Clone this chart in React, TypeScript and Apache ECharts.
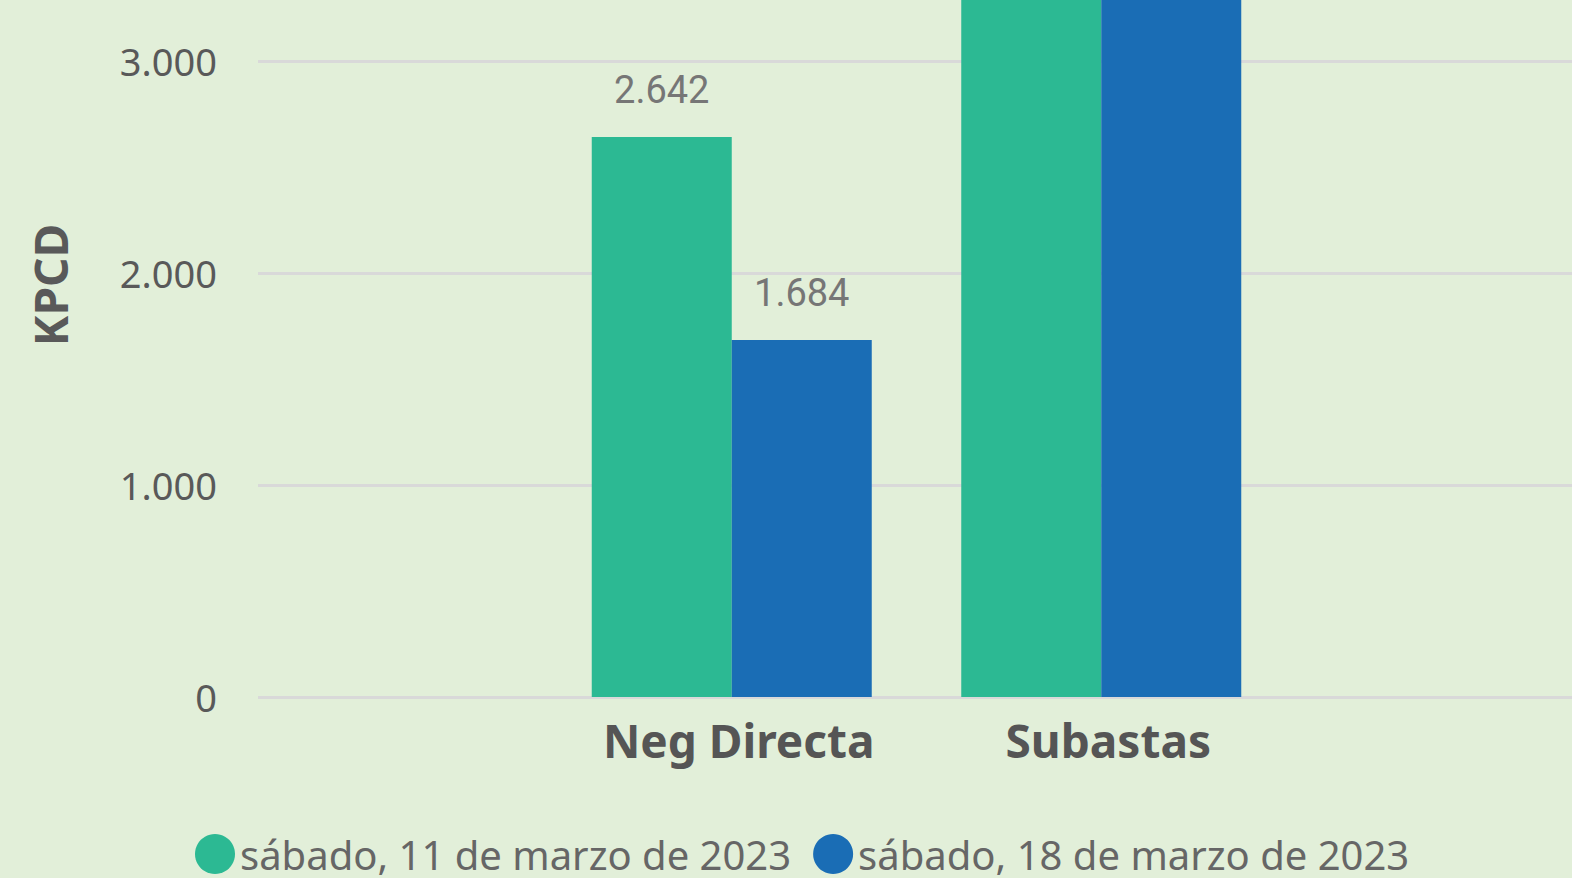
import React, { useEffect, useRef } from "react";
import * as echarts from "echarts";

const categories = ["Neg Directa", "Subastas"];
const seriesNames = ["sábado, 11 de marzo de 2023", "sábado, 18 de marzo de 2023"];
const values11 = [2642, 4081];
const values18 = [1684, 4296];
const colors = ["#2cb993", "#1a6db5"];
const yAxisTitle = "KPCD";
const yMin = 0;
const yMax = 5000;
const yInterval = 1000;

const fmt = (v: number) => String(Math.round(v)).replace(/\B(?=(\d{3})+(?!\d))/g, ".");

const OFFSET = 400;

export default function App() {
  const ref = useRef<HTMLDivElement>(null);
  useEffect(() => {
    if (!ref.current) return;
    const chart = echarts.init(ref.current, null, { renderer: "svg" });
    const gridTop = 37;
    const gridBottom = 181;
    const labelStyle = {
      show: true,
      position: "top",
      distance: 28,
      color: "#767676",
      fontFamily: "Roboto",
      fontSize: 38,
      formatter: (p: any) => fmt(p.value),
    };
    chart.setOption({
      animation: false,
      backgroundColor: "#e2efd9",
      legend: {
        data: seriesNames,
        left: 190,
        top: 829 + OFFSET,
        icon: "circle",
        itemWidth: 40,
        itemHeight: 40,
        itemGap: 22,
        textStyle: { color: "#666666", fontSize: 40, fontFamily: "Noto Sans" },
      },
      graphic: [
        {
          type: "text",
          x: 50,
          y: 285 + OFFSET,
          rotation: Math.PI / 2,
          style: {
            text: yAxisTitle,
            fill: "#595959",
            fontWeight: "bold",
            fontSize: 46,
            fontFamily: "Noto Sans",
            textAlign: "center",
            textVerticalAlign: "middle",
          },
        },
      ],
      grid: [
        { left: 258, right: 0, top: gridTop, bottom: gridBottom },
        { left: 547, right: 286, top: gridTop, bottom: gridBottom },
      ],
      xAxis: [
        { type: "category", gridIndex: 0, data: categories, show: false },
        {
          type: "category",
          gridIndex: 1,
          data: categories,
          axisLine: { show: false },
          axisTick: { show: false },
          axisLabel: {
            margin: 20,
            color: "#555555",
            fontWeight: "bold",
            fontSize: 46,
            fontFamily: "Noto Sans",
            padding: [0, 0, 0, 14],
          },
        },
      ],
      yAxis: [
        {
          type: "value",
          gridIndex: 0,
          min: yMin,
          max: yMax,
          interval: yInterval,
          axisLine: { show: false },
          axisTick: { show: false },
          axisLabel: {
            margin: 41,
            color: "#595959",
            fontSize: 38,
            fontFamily: "Noto Sans",
            formatter: (v: number) => fmt(v),
          },
          splitLine: { lineStyle: { color: "#d9d9d9", width: 3 } },
        },
        {
          type: "value",
          gridIndex: 1,
          min: yMin,
          max: yMax,
          interval: yInterval,
          show: false,
          splitLine: { show: false },
        },
      ],
      series: [
        {
          name: seriesNames[0],
          type: "bar",
          xAxisIndex: 1,
          yAxisIndex: 1,
          data: values11,
          barWidth: 140,
          barGap: "0%",
          itemStyle: { color: colors[0] },
          label: labelStyle,
        },
        {
          name: seriesNames[1],
          type: "bar",
          xAxisIndex: 1,
          yAxisIndex: 1,
          data: values18,
          barWidth: 140,
          barGap: "0%",
          itemStyle: { color: colors[1] },
          label: labelStyle,
        },
      ],
    });
    return () => chart.dispose();
  }, []);
  return (
    <div
      style={{
        position: "absolute",
        left: 0,
        top: 0,
        width: 1572,
        height: 878,
        overflow: "hidden",
      }}
    >
      <div
        ref={ref}
        style={{ position: "absolute", left: 0, top: -OFFSET, width: 1572, height: 878 + OFFSET }}
      />
    </div>
  );
}
